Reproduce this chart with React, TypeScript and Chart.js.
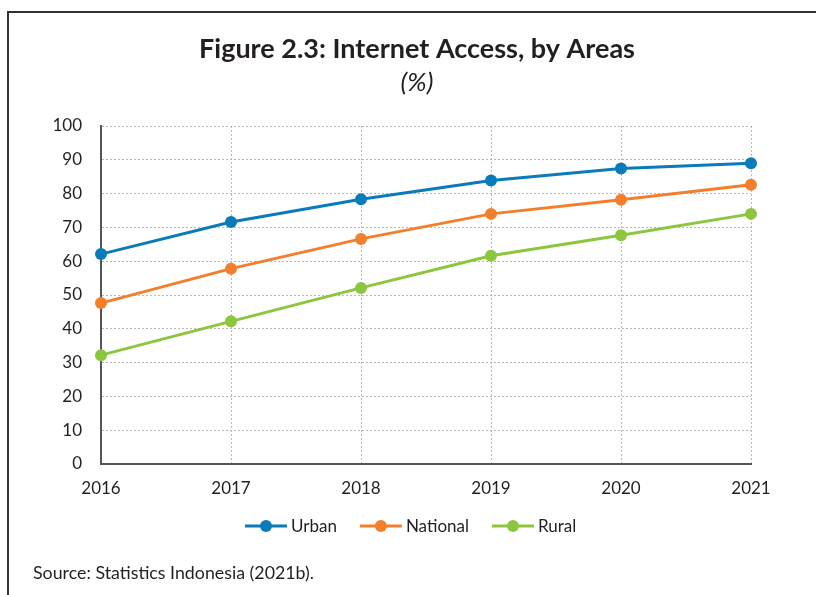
import React, { useEffect, useRef } from "react";
import { Chart, registerables } from "chart.js";

Chart.register(...registerables);

const years = ["2016", "2017", "2018", "2019", "2020", "2021"];
const urban = [62.1, 71.6, 78.3, 83.9, 87.4, 89.0];
const national = [47.6, 57.8, 66.6, 74.0, 78.2, 82.6];
const rural = [32.2, 42.2, 52.1, 61.6, 67.7, 74.0];
const seriesNames = ["Urban", "National", "Rural"];
const seriesColors = ["#0A7BBA", "#F37F2D", "#8CC63F"];
const yMin = 0;
const yMax = 100;
const yStep = 10;
const titleText = "Figure 2.3: Internet Access, by Areas";
const subtitleText = "(%)";
const sourceText = "Source: Statistics Indonesia (2021b).";

const FONT = "Lato, 'Noto Sans', sans-serif";

const decorPlugin = {
  id: "decor",
  beforeDraw(chart: any) {
    const ctx = chart.ctx;
    ctx.save();
    ctx.fillStyle = "#ffffff";
    ctx.fillRect(0, 0, chart.width, chart.height);
    ctx.restore();
  },
  afterDraw(chart: any) {
    const ctx = chart.ctx;
    ctx.save();
    // frame
    ctx.strokeStyle = "#333333";
    ctx.lineWidth = 2;
    ctx.beginPath();
    ctx.moveTo(8, chart.height);
    ctx.lineTo(8, 12);
    ctx.lineTo(chart.width, 12);
    ctx.stroke();

    // title
    ctx.fillStyle = "#231f20";
    ctx.textAlign = "center";
    ctx.textBaseline = "alphabetic";
    ctx.font = `bold 27px ${FONT}`;
    ctx.fillText(titleText, 417, 58);
    ctx.font = `italic 26px ${FONT}`;
    ctx.fillText(subtitleText, 417, 91);

    // legend
    ctx.font = `17px ${FONT}`;
    ctx.textAlign = "left";
    ctx.textBaseline = "middle";
    const ly = 526;
    let x = 245;
    chart.data.datasets.forEach((ds: any) => {
      const c = ds.borderColor;
      ctx.strokeStyle = c;
      ctx.lineWidth = 3;
      ctx.beginPath();
      ctx.moveTo(x, ly);
      ctx.lineTo(x + 42, ly);
      ctx.stroke();
      ctx.fillStyle = c;
      ctx.beginPath();
      ctx.arc(x + 21, ly, 6, 0, Math.PI * 2);
      ctx.fill();
      ctx.fillStyle = "#231f20";
      ctx.fillText(ds.label, x + 46, ly + 1);
      const w = ctx.measureText(ds.label).width;
      x += 46 + w + 23;
    });

    // source
    ctx.font = `17.8px ${FONT}`;
    ctx.textBaseline = "alphabetic";
    ctx.fillStyle = "#231f20";
    ctx.fillText(sourceText, 33, 579);
    ctx.restore();
  },
};

export default function App() {
  const ref = useRef<HTMLCanvasElement | null>(null);
  useEffect(() => {
    if (!ref.current) return;
    const allSeries = [urban, national, rural];
    const chart = new Chart(ref.current, {
      type: "line",
      data: {
        labels: years,
        datasets: allSeries.map((d, i) => ({
          label: seriesNames[i],
          data: d,
          borderColor: seriesColors[i],
          backgroundColor: seriesColors[i],
          pointBackgroundColor: seriesColors[i],
          pointBorderColor: seriesColors[i],
          borderWidth: 3,
          pointRadius: 6,
          pointBorderWidth: 0,
          tension: 0,
          clip: false as any,
        })),
      },
      options: {
        animation: false,
        responsive: false,
        devicePixelRatio: 1,
        layout: { padding: { left: 30, right: 65, top: 126, bottom: 91 } },
        plugins: {
          legend: { display: false },
          title: { display: false },
          tooltip: { enabled: false },
        },
        scales: {
          x: {
            offset: false,
            grid: {
              color: "#b8b8b8",
              lineWidth: 1,
              drawTicks: false,
            },
            border: { display: true, color: "#555555", width: 2, dash: [2, 2] },
            ticks: {
              color: "#231f20",
              font: { family: FONT, size: 17 },
              padding: 14,
              maxRotation: 0,
            },
            afterFit: (s: any) => {
              s.height = 40;
            },
          },
          y: {
            min: yMin,
            max: yMax,
            grid: {
              color: "#b8b8b8",
              lineWidth: 1,
              drawTicks: false,
            },
            border: { display: true, color: "#555555", width: 2, dash: [2, 2] },
            ticks: {
              stepSize: yStep,
              color: "#231f20",
              font: { family: FONT, size: 17 },
              padding: 19,
            },
            afterFit: (s: any) => {
              s.width = 71;
            },
          },
        },
      },
      plugins: [decorPlugin],
    });
    return () => chart.destroy();
  }, []);
  return (
    <div style={{ position: "fixed", left: 0, top: 0, width: 816, height: 595, background: "#fff" }}>
      <canvas ref={ref} width={816} height={595} style={{ width: 816, height: 595, display: "block" }} />
    </div>
  );
}
